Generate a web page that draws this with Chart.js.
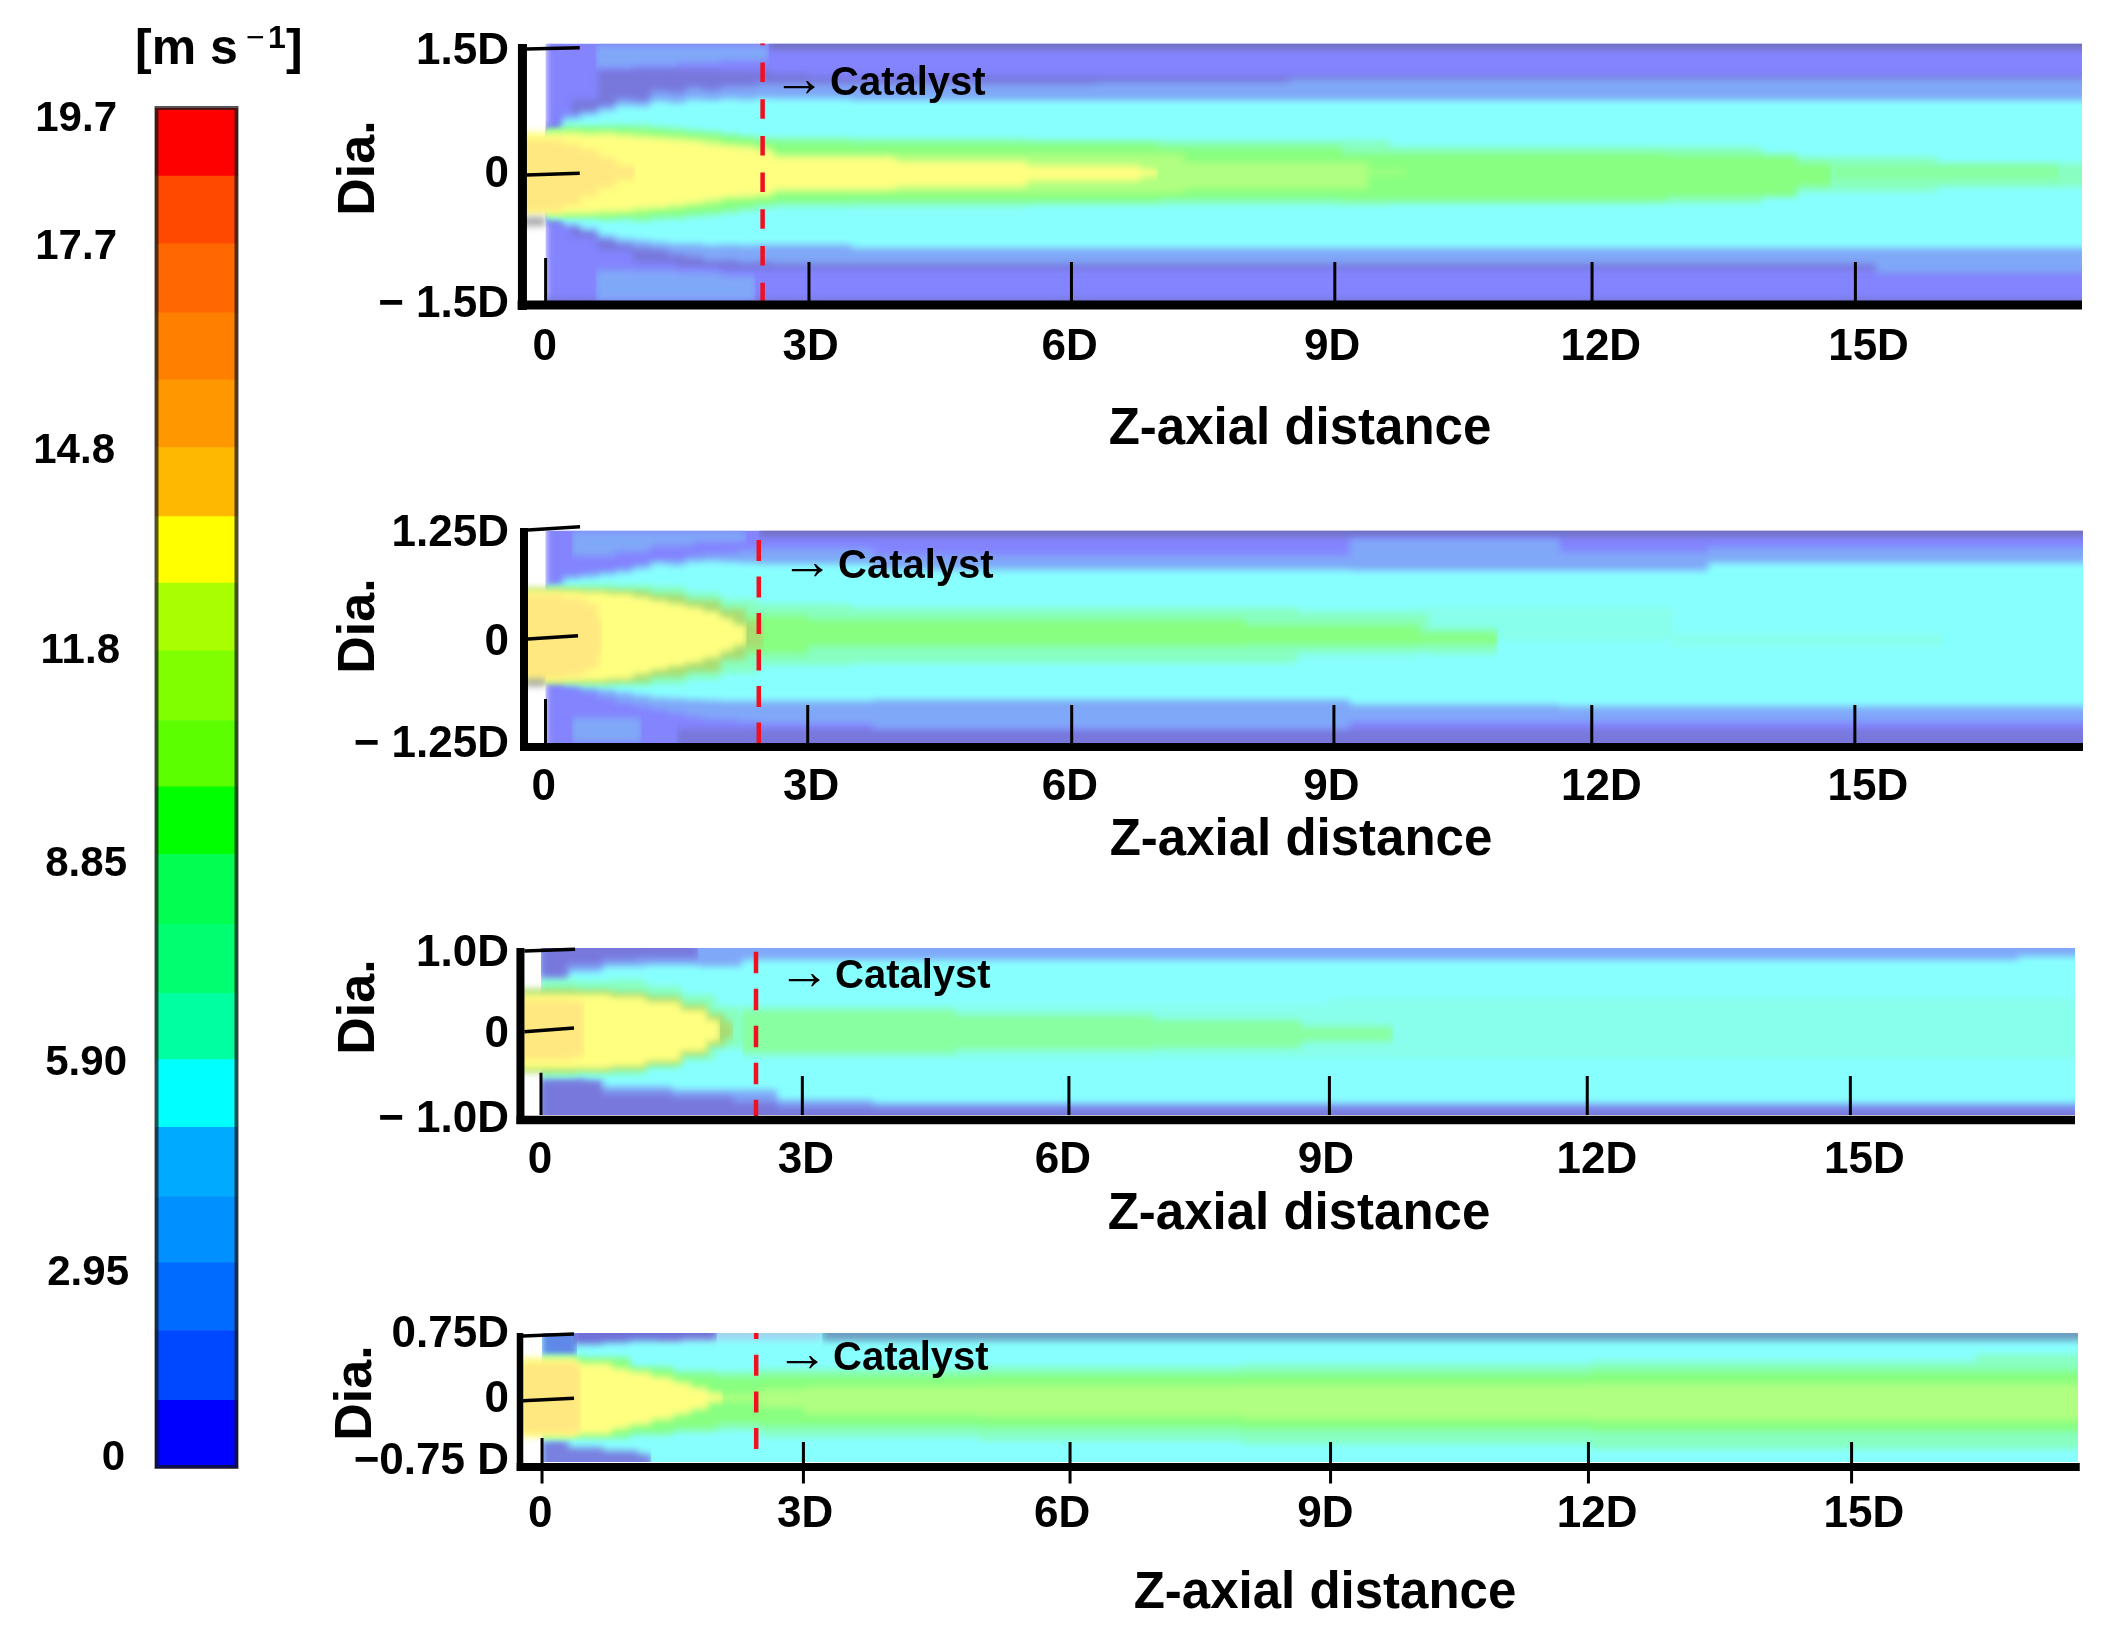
<!DOCTYPE html>
<html>
<head>
<meta charset="utf-8">
<title>Velocity contours</title>
<script src="https://cdn.jsdelivr.net/npm/chart.js@4/dist/chart.umd.min.js"></script>
<style>
    html, body { margin: 0; background: #fff; }
    #page { position: relative; width: 2110px; height: 1640px; overflow: hidden; }
    canvas { position: absolute; left: 0; filter: blur(0.6px); }
</style>
</head>
<body>
<div id="page">
    <canvas id="legend" width="320" height="1500" style="top:0"></canvas>
    <canvas id="p1" width="2110" height="470" style="top:0"></canvas>
    <canvas id="p2" width="2110" height="400" style="top:480px"></canvas>
    <canvas id="p3" width="2110" height="350" style="top:900px"></canvas>
    <canvas id="p4" width="2110" height="350" style="top:1290px"></canvas>
</div>
<script>
// colour bar, bottom to top
const legendSteps = [0.98, 1.01, 0.98, 0.96, 1.0, 0.98, 0.96, 1.0, 1.01, 0.98, 0.96, 1.01, 0.98, 0.96, 1.0, 0.98, 0.97, 1.0, 0.98, 0.98];
const legendColors = ['#0000ff', '#0048ff', '#006cff', '#0090ff', '#00aaff', '#00ffff', '#00ffa0', '#00ff70', '#00ff50', '#00ff00',
    '#5cff00', '#80ff00', '#a8ff00', '#ffff00', '#ffb800', '#ff9800', '#ff8000', '#ff6800', '#ff4800', '#ff0000'];
const legendLabels = ['19.7', '17.7', '14.8', '11.8', '8.85', '5.90', '2.95', '0'];
const legendLabelValues = [19.52, 17.67, 14.72, 11.82, 8.74, 5.86, 2.82, 0.14];

const xTickLabels = ['0', '3D', '6D', '9D', '12D', '15D'];

// contour colours
const PURPLE = '#8484ff', DIM = '#7878dc', DARK = '#7070c0', SKY = '#80a8f8', CYAN = '#88ffff', PALE = '#88ffec',
    MINT = '#88ffc0', GREEN = '#88ff80', SOFT = '#88ffa0', LIME = '#b0ff80', RIM = '#a8dc70', YELLOW = '#ffff80', CORE = '#ffe880', LIP = '#a4a4a4';

// ---- panel 1, +-1.5D
const p1Near = [0, .2, .4, .6, .8, 1, 1.2, 1.4, 1.6, 1.8, 2, 2.2, 2.4, 2.6];
const p1Ticks = [0, 3.01, 6.01, 9.02, 11.96, 14.97];
const p1LabelZ = [-.01, 3.03, 5.99, 8.99, 12.06, 15.12];
const p1LabelD = [1.40, -.023, -1.534];
const p1YLabels = ['1.5D', '0', '\u2212 1.5D'];

const p1BaseZ = [0, 18], p1BaseTop = [1.7, 1.7], p1BaseBot = [-1.7, -1.7];
const p1StripeZ = [2.55, 18], p1StripeTop = [1.7, 1.7], p1StripeBot = [1.43, 1.43];
const p1FloorZ = [0, 18], p1FloorTop = [-1.46, -1.46], p1FloorBot = [-1.7, -1.7];
const p1DimZ = [0, .3, .6, 1, 1.5, 2, 2.6, 3, 8.5, 18];
const p1DimTop = [.55, .85, 1.2, 1.22, 1.2, 1.18, 1.15, 1.12, 1.12, 1.12];
const p1DimBot = [-.6, -.75, -.9, -1.05, -1.1, -1.13, -1.13, -1.13, -1.13, -1.13];
const p1PatchZ = [.57, 1, 1.5, 2, 2.55];
const p1PatchTop = [1.48, 1.48, 1.48, 1.48, 1.48], p1PatchBot = [1.22, 1.24, 1.27, 1.3, 1.38];
const p1FootZ = [.57, 1, 1.5, 2, 2.4];
const p1FootTop = [-1.13, -1.14, -1.16, -1.2, -1.3], p1FootBot = [-1.49, -1.49, -1.49, -1.49, -1.49];
const p1SkyZ = [...p1Near, 3.5, 6.3, 8.5, 15.2, 18];
const p1SkyTop = [.49, .68, .72, .78, .86, .84, .95, .93, .99, .96, 1, 1, 1.03, 1.03, 1.03, 1.05, 1.09, 1.09, 1.09];
const p1SkyBot = [-.52, -.62, -.68, -.78, -.84, -.88, -.9, -.95, -.98, -1.03, -1.02, -1.05, -1.04, -1.06, -1.06, -1.06, -1.06, -1.17, -1.17];
const p1CyanZ = [...p1Near, 3.5, 8.5, 18];
const p1CyanTop = [.45, .62, .67, .72, .78, .77, .83, .81, .85, .84, .86, .85, .87, .86, .84, .84, .84];
const p1CyanBot = [-.55, -.6, -.65, -.73, -.77, -.79, -.81, -.83, -.83, -.85, -.84, -.85, -.84, -.84, -.88, -.88, -.88];
const p1MintZ = [...p1Near, 5.5, 9.65, 13.9, 15.9, 18];
const p1MintTop = [.5, .56, .54, .57, .55, .57, .53, .53, .5, .48, .45, .42, .41, .4, .376, .3, .18, .105, .105];
const p1MintBot = [-.5, -.52, -.53, -.55, -.55, -.57, -.55, -.54, -.52, -.5, -.48, -.45, -.42, -.4, -.38, -.36, -.22, -.17, -.17];
const p1GreenZ = [...p1Near, 3.5, 7, 9.1, 12.8, 14.3, 14.7];
const p1GreenTop = [.47, .5, .52, .5, .52, .5, .5, .47, .45, .44, .42, .4, .37, .36, .34, .3, .22, .2, .105, .05];
const p1GreenBot = [-.47, -.5, -.5, -.53, -.51, -.53, -.5, -.5, -.47, -.46, -.43, -.4, -.36, -.34, -.33, -.3, -.32, -.28, -.15, -.05];
const p1SoftZ = [14.7, 15.9, 17.3], p1SoftTop = [.08, .08, .03], p1SoftBot = [-.08, -.08, -.03];
const p1LimeZ = [0, .4, .8, 1.2, 1.6, 2, 2.4, 2.6, 7.3, 9.4, 9.85];
const p1LimeTop = [.48, .47, .46, .43, .4, .34, .3, .22, .12, .02, 0];
const p1LimeBot = [-.5, -.49, -.47, -.43, -.38, -.31, -.29, -.24, -.19, -.02, 0];
const p1YellowZ = [-.27, 0, .2, .4, .6, .8, 1, 1.2, 1.4, 1.6, 1.8, 2, 2.2, 2.4, 2.6, 4, 5.5, 6.8, 7];
const p1YellowTop = [.47, .45, .46, .44, .45, .43, .41, .4, .38, .37, .33, .31, .29, .26, .18, .13, .08, .04, 0];
const p1YellowBot = [-.48, -.48, -.47, -.47, -.45, -.45, -.42, -.41, -.38, -.36, -.32, -.29, -.28, -.26, -.2, -.17, -.1, -.05, 0];
const p1CoreZ = [-.27, .2, .4, .6, .8, 1.03];
const p1CoreTop = [.38, .33, .27, .18, .08, 0], p1CoreBot = [-.45, -.38, -.28, -.18, -.08, 0];
const p1LipZ = [-.27, 0], p1LipTop = [-.52, -.52], p1LipBot = [-.62, -.62];

// ---- panel 2, +-1.25D
const p2Near = [0, .2, .4, .6, .8, 1, 1.2, 1.4, 1.6, 1.8, 2, 2.2, 2.44];
const p2Ticks = [0, 3, 6.02, 9.02, 11.97, 14.98];
const p2LabelZ = [-.02, 3.04, 6, 8.99, 12.08, 15.13];
const p2LabelD = [1.21, -.073, -1.273];
const p2YLabels = ['1.25D', '0', '\u2212 1.25D'];

const p2BaseZ = [0, 18], p2BaseTop = [1.4, 1.4], p2BaseBot = [-1.4, -1.4];
const p2StripeZ = [2.44, 18], p2StripeTop = [1.4, 1.4], p2StripeBot = [1.18, 1.18];
const p2FloorZ = [1.5, 18], p2FloorTop = [-1.08, -1.08], p2FloorBot = [-1.4, -1.4];
const p2PatchZ = [.3, .8, 1.2, 1.7, 2.3];
const p2PatchTop = [1.24, 1.24, 1.24, 1.24, 1.24], p2PatchBot = [.95, 1, 1.07, 1.12, 1.16];
const p2FootZ = [.3, .6, 1.1], p2FootTop = [-.95, -.95, -1], p2FootBot = [-1.24, -1.24, -1.24];
const p2SkyZ = [...p2Near, 3.75, 9.2, 11.6, 13.3, 18];
const p2SkyTop = [.59, .72, .75, .78, .8, .85, .9, .9, .95, .97, .98, 1.02, 1.04, .96, 1.15, 1, 1.06, 1.06];
const p2SkyBot = [-.51, -.6, -.66, -.72, -.78, -.82, -.86, -.9, -.94, -.97, -.98, -1, -1.02, -1.08, -1, -1, -1, -1];
const p2CyanZ = [...p2Near, 3.75, 9.2, 11.6, 13.3, 18];
const p2CyanTop = [.57, .68, .7, .73, .76, .8, .86, .84, .88, .89, .88, .87, .86, .79, .78, .78, .87, .87];
const p2CyanBot = [-.5, -.55, -.58, -.62, -.66, -.69, -.72, -.73, -.74, -.75, -.76, -.76, -.76, -.74, -.8, -.82, -.82, -.82];
const p2PaleZ = [2.44, 8.6, 10, 12.9, 15.5, 16];
const p2PaleTop = [.35, .32, .35, .04, .04, 0], p2PaleBot = [-.3, -.25, -.05, -.12, -.12, 0];
const p2MintZ = [0, .4, .8, 1.2, 1.6, 2, 2.44, 3.5, 8.6, 10.1, 10.9];
const p2MintTop = [.6, .62, .61, .59, .52, .44, .38, .33, .28, .1, 0];
const p2MintBot = [-.52, -.58, -.58, -.56, -.5, -.43, -.33, -.3, -.18, -.2, 0];
const p2GreenZ = [2.3, 3, 5.2, 8, 10, 10.9];
const p2GreenTop = [.25, .2, .2, .14, .04, 0], p2GreenBot = [-.2, -.11, -.11, -.1, -.08, 0];
const p2RimZ = [-.24, 0, .4, .8, 1.2, 1.6, 2, 2.3, 2.5];
const p2RimTop = [.57, .56, .55, .54, .5, .43, .33, .18, 0], p2RimBot = [-.53, -.54, -.54, -.53, -.47, -.41, -.27, -.14, 0];
const p2YellowZ = [-.24, 0, .4, .7, 1, 1.2, 1.4, 1.6, 1.8, 2, 2.15, 2.3];
const p2YellowTop = [.55, .54, .53, .51, .47, .43, .39, .35, .3, .22, .14, 0];
const p2YellowBot = [-.52, -.52, -.52, -.5, -.44, -.39, -.35, -.31, -.25, -.17, -.1, 0];
const p2CoreZ = [-.24, .2, .45, .6, .65];
const p2CoreTop = [.5, .46, .38, .2, 0], p2CoreBot = [-.5, -.46, -.38, -.2, 0];
const p2LipZ = [-.24, 0], p2LipTop = [-.5, -.5], p2LipBot = [-.58, -.58];

// ---- panel 3, +-1.0D
const p3Ticks = [0, 2.99, 6.04, 9.02, 11.97, 14.98];
const p3LabelZ = [-.01, 3.03, 5.97, 8.98, 12.08, 15.14];
const p3LabelD = [.928, -.042, -1.06];
const p3YLabels = ['1.0D', '0', '\u2212 1.0D'];

const p3BaseZ = [0, 18], p3BaseTop = [1.2, 1.2], p3BaseBot = [-1.2, -1.2];
const p3CapZ = [0, .3, .7, 1.2, 1.8, 2.3, 16.9, 18];
const p3CapTop = [1.2, 1.2, 1.2, 1.2, 1.2, 1.2, 1.2, 1.2], p3CapBot = [.6, .72, .78, .8, .78, .86, .9, .9];
const p3HoodZ = [0, .3, .7, 1.1, 1.8], p3HoodTop = [1.2, 1.2, 1.2, 1.2, 1.2], p3HoodBot = [.66, .8, .86, .88, .86];
const p3SoleZ = [0, .5, 1.5, 2.7, 3.8, 18];
const p3SoleTop = [-.56, -.66, -.7, -.82, -.86, -.86], p3SoleBot = [-1.2, -1.2, -1.2, -1.2, -1.2, -1.2];
const p3FloorZ = [0, .7, 1.5, 2.2, 2.7, 3.8, 18];
const p3FloorTop = [-.58, -.74, -.78, -.84, -.9, -.92, -.94], p3FloorBot = [-1.2, -1.2, -1.2, -1.2, -1.2, -1.2, -1.2];
const p3PaleZ = [2.3, 8, 9, 18], p3PaleTop = [.32, .32, .4, .4], p3PaleBot = [-.33, -.33, -.33, -.33];
const p3MintZ = [0, .4, .8, 1.2, 1.6, 2, 2.3, 2.45];
const p3MintTop = [.62, .6, .62, .54, .44, .3, .2, .1], p3MintBot = [-.54, -.52, -.52, -.44, -.34, -.2, -.14, -.06];
const p3GreenZ = [2.3, 4.75, 7, 8.7, 9.75];
const p3GreenTop = [.26, .2, .14, .06, .02], p3GreenBot = [-.26, -.22, -.2, -.12, -.01];
const p3RimZ = [-.24, .4, .8, 1.2, 1.6, 1.9, 2.1, 2.2];
const p3RimTop = [.51, .49, .47, .42, .32, .21, .12, 0], p3RimBot = [-.49, -.47, -.45, -.39, -.28, -.17, -.09, 0];
const p3YellowZ = [-.24, .4, .8, 1.2, 1.6, 1.9, 2.05];
const p3YellowTop = [.45, .45, .42, .36, .26, .14, 0], p3YellowBot = [-.45, -.45, -.42, -.36, -.24, -.12, 0];
const p3CoreZ = [-.24, .35, .5], p3CoreTop = [.38, .36, 0], p3CoreBot = [-.34, -.3, 0];

// ---- panel 4, +-0.75D
const p4Ticks = [0, 2.99, 6.04, 9.02, 11.97, 14.98];
const p4LabelZ = [-.02, 3.01, 5.95, 8.96, 12.07, 15.12];
const p4LabelD = [.727, -.029, -.75];
const p4YLabels = ['0.75D', '0', '\u22120.75 D'];

const p4BaseZ = [0, 18], p4BaseTop = [.9, .9], p4BaseBot = [-.9, -.9];
const p4StripeZ = [3.2, 18], p4StripeTop = [.9, .9], p4StripeBot = [.66, .66];
const p4HazeZ = [1.3, 3.2], p4HazeTop = [.9, .9], p4HazeBot = [.67, .67];
const p4HoodZ = [0, .4], p4HoodTop = [.9, .9], p4HoodBot = [.48, .6];
const p4CapZ = [.35, .7, 1, 1.3, 1.6, 2], p4CapTop = [.9, .9, .9, .9, .9, .9], p4CapBot = [.62, .64, .66, .66, .68, .68];
const p4SoleZ = [0, .3, .7, 1.1, 1.25], p4SoleTop = [-.5, -.58, -.62, -.66, -.72], p4SoleBot = [-.9, -.9, -.9, -.9, -.9];
const p4MintZ = [0, .5, 1, 1.5, 2, 2.5, 5, 8, 12, 16.4, 18];
const p4MintTop = [.47, .43, .36, .31, .3, .33, .36, .39, .42, .5, .5];
const p4MintBot = [-.46, -.47, -.44, -.4, -.38, -.46, -.5, -.54, -.6, -.6, -.6];
const p4GreenZ = [0, 1, 1.5, 2, 2.5, 5, 8, 12, 18];
const p4GreenTop = [.46, .33, .27, .24, .26, .27, .28, .31, .34];
const p4GreenBot = [-.45, -.4, -.36, -.3, -.33, -.35, -.37, -.39, -.4];
const p4LimeZ = [1.9, 2.5, 3, 5, 8, 12, 18];
const p4LimeTop = [.04, .1, .13, .14, .15, .16, .16];
const p4LimeBot = [-.05, -.12, -.2, -.22, -.25, -.27, -.28];
const p4YellowZ = [-.25, .4, .8, 1, 1.25, 1.5, 1.7, 1.9, 2.07];
const p4YellowTop = [.46, .4, .34, .3, .24, .18, .12, .05, 0], p4YellowBot = [-.46, -.43, -.37, -.32, -.26, -.2, -.14, -.05, 0];
const p4CoreZ = [-.25, .4, .45], p4CoreTop = [.41, .38, 0], p4CoreBot = [-.42, -.4, 0];

const zipPoints = (xs, ys) => xs.map((x, i) => ({ x, y: ys[i] }));

function buildDatasets (bands, marks) {
    const sets = [];

    bands.forEach(([color, zs, top, bot], i) => {
        const common = { borderWidth: 0, pointRadius: 0, stepped: true, order: 1000 - i };
        sets.push({ ...common, data: zipPoints(zs, top), fill: '+1', backgroundColor: color });
        sets.push({ ...common, data: zipPoints(zs, bot), fill: false });
    });

    marks.forEach(mark => {
        sets.push({
            data: zipPoints(mark.x, mark.y),
            borderColor: mark.color || '#000',
            borderWidth: mark.width,
            borderDash: mark.dash || [],
            borderDashOffset: mark.dashOffset || 0,
            borderCapStyle: 'butt',
            pointRadius: 0,
            fill: false,
            clip: false,
            order: 0
        });
    });

    return sets;
}

// fills come out soft, the lines drawn on top stay sharp
const softFill = {
    id: 'softFill',
    beforeDatasetsDraw: chart => { chart.ctx.filter = 'blur(3.5px)'; },
    beforeDatasetDraw: chart => { chart.ctx.filter = 'none'; },
    afterDatasetDraw: chart => { chart.ctx.filter = 'blur(3.5px)'; },
    afterDatasetsDraw: chart => { chart.ctx.filter = 'none'; }
};

const pageText = {
    id: 'pageText',
    afterDraw (chart, args, options) {
        const ctx = chart.ctx;
        options.items.forEach(item => {
            ctx.save();
            ctx.translate(item.x, item.y);
            ctx.rotate(item.rotate || 0);
            ctx.font = item.font;
            ctx.fillStyle = '#000';
            ctx.textAlign = item.align || 'left';
            ctx.textBaseline = 'middle';
            ctx.fillText(item.text, 0, 0);
            ctx.restore();
        });
    }
};

const BOLD = 'Liberation Sans';

function drawPanel (id, cfg) {
    const canvas = document.getElementById(id);
    const area = cfg.area;
    const items = [
        { text: '\u2192', x: cfg.arrowX - 6, y: cfg.catalystY - cfg.canvasTop + 2, font: `52px ${BOLD}` },
        { text: 'Catalyst', x: cfg.arrowX + 51, y: cfg.catalystY - cfg.canvasTop + 4, font: `bold 40px ${BOLD}` },
        { text: 'Z-axial distance', x: cfg.titleX, y: cfg.titleY - cfg.canvasTop + 3, font: `bold 51px ${BOLD}`, align: 'center' },
        { text: 'Dia.', x: cfg.diaX + 3, y: cfg.diaY - cfg.canvasTop, font: `bold 52px ${BOLD}`, align: 'center', rotate: -Math.PI / 2 }
    ];

    new Chart(canvas, {
        type: 'line',
        data: { datasets: buildDatasets(cfg.bands, cfg.marks) },
        options: {
            responsive: false,
            animation: false,
            events: [],
            layout: { padding: { top: area.top - cfg.canvasTop, right: 2110 - area.right, left: 0, bottom: 0 } },
            plugins: { legend: { display: false }, tooltip: { enabled: false }, pageText: { items } },
            scales: {
                x: {
                    type: 'linear',
                    min: cfg.xMin,
                    max: cfg.xMax,
                    grid: { display: false },
                    border: { display: false },
                    afterFit: scale => { scale.height = canvas.height - (area.bottom - cfg.canvasTop); },
                    afterBuildTicks: scale => { scale.ticks = cfg.xLabelAt.map(value => ({ value })); },
                    ticks: {
                        z: 1,
                        autoSkip: false,
                        maxRotation: 0,
                        padding: cfg.xPad,
                        color: '#000',
                        font: { family: BOLD, size: 44, weight: 'bold', lineHeight: 1 },
                        callback: (value, i) => xTickLabels[i]
                    }
                },
                y: {
                    type: 'linear',
                    min: cfg.yMin,
                    max: cfg.yMax,
                    grid: { display: false },
                    border: { display: false },
                    afterFit: scale => { scale.width = area.left; },
                    afterBuildTicks: scale => { scale.ticks = cfg.yLabelAt.map(value => ({ value })); },
                    ticks: {
                        z: 1,
                        autoSkip: false,
                        padding: cfg.yPad,
                        color: '#000',
                        font: { family: BOLD, size: 44, weight: 'bold', lineHeight: 1 },
                        callback: (value, i) => cfg.yLabels[i]
                    }
                }
            }
        },
        plugins: [softFill, pageText]
    });
}

function axisMarks (m) {
    const marks = [];
    marks.push({ x: [m.axisZ, m.axisZ], y: [m.axisTop, m.axisBottom], width: m.axisWidth });
    marks.push({ x: [m.axisStart, m.xMax], y: [m.floorD, m.floorD], width: m.floorWidth });
    marks.push({ x: [m.capStart, m.capEnd], y: [m.capFrom, m.capTo], width: 3.5 });
    marks.push({ x: [m.capStart, m.midEnd], y: [m.midFrom, m.midTo], width: 3.5 });
    m.ticks.forEach((z, i) => {
        const from = i === 0 ? m.zeroTickTop : m.tickTop;
        marks.push({ x: [z, z], y: [from, m.tickBottom], width: 3 });
    });
    marks.push({ x: [m.redZ, m.redZ], y: [m.redTop, m.redBottom], width: 4.5, color: '#f01020', dash: m.dash, dashOffset: m.dashOffset });
    return marks;
}

drawPanel('p1', {
    canvasTop: 0,
    area: { left: 522, right: 2082, top: 43.5, bottom: 301.5 },
    xMin: -.27, xMax: 17.56, yMin: -1.5, yMax: 1.5,
    xLabelAt: p1LabelZ, yLabelAt: p1LabelD, yLabels: p1YLabels, xPad: 16, yPad: 5,
    arrowX: 779, catalystY: 80, titleX: 1300, titleY: 427, diaX: 357, diaY: 168,
    bands: [
        [PURPLE, p1BaseZ, p1BaseTop, p1BaseBot],
        [DARK, p1StripeZ, p1StripeTop, p1StripeBot],
        [DIM, p1FloorZ, p1FloorTop, p1FloorBot],
        [DIM, p1DimZ, p1DimTop, p1DimBot],
        [SKY, p1PatchZ, p1PatchTop, p1PatchBot],
        [SKY, p1FootZ, p1FootTop, p1FootBot],
        [SKY, p1SkyZ, p1SkyTop, p1SkyBot],
        [CYAN, p1CyanZ, p1CyanTop, p1CyanBot],
        [MINT, p1MintZ, p1MintTop, p1MintBot],
        [GREEN, p1GreenZ, p1GreenTop, p1GreenBot],
        [SOFT, p1SoftZ, p1SoftTop, p1SoftBot],
        [LIME, p1LimeZ, p1LimeTop, p1LimeBot],
        [YELLOW, p1YellowZ, p1YellowTop, p1YellowBot],
        [CORE, p1CoreZ, p1CoreTop, p1CoreBot],
        [LIP, p1LipZ, p1LipTop, p1LipBot]
    ],
    marks: axisMarks({
        axisZ: -.265, axisTop: 1.494, axisBottom: -1.6, axisWidth: 9,
        axisStart: -.32, xMax: 17.56, floorD: -1.54, floorWidth: 9,
        capStart: -.22, capEnd: .39, capFrom: 1.436, capTo: 1.451, midEnd: .39, midFrom: -.03, midTo: -.01,
        ticks: p1Ticks, zeroTickTop: -.994, tickTop: -1.04, tickBottom: -1.5,
        redZ: 2.48, redTop: 1.5, redBottom: -1.52, dash: [19.5, 17.2], dashOffset: 17.7
    })
});

drawPanel('p2', {
    canvasTop: 480,
    area: { left: 524, right: 2083, top: 530.5, bottom: 743 },
    xMin: -.246, xMax: 17.59, yMin: -1.25, yMax: 1.25,
    xLabelAt: p2LabelZ, yLabelAt: p2LabelD, yLabels: p2YLabels, xPad: 15, yPad: 7,
    arrowX: 787, catalystY: 563, titleX: 1301, titleY: 838, diaX: 357, diaY: 626,
    bands: [
        [PURPLE, p2BaseZ, p2BaseTop, p2BaseBot],
        [DARK, p2StripeZ, p2StripeTop, p2StripeBot],
        [DIM, p2FloorZ, p2FloorTop, p2FloorBot],
        [SKY, p2PatchZ, p2PatchTop, p2PatchBot],
        [SKY, p2FootZ, p2FootTop, p2FootBot],
        [SKY, p2SkyZ, p2SkyTop, p2SkyBot],
        [CYAN, p2CyanZ, p2CyanTop, p2CyanBot],
        [PALE, p2PaleZ, p2PaleTop, p2PaleBot],
        [MINT, p2MintZ, p2MintTop, p2MintBot],
        [GREEN, p2GreenZ, p2GreenTop, p2GreenBot],
        [RIM, p2RimZ, p2RimTop, p2RimBot],
        [YELLOW, p2YellowZ, p2YellowTop, p2YellowBot],
        [CORE, p2CoreZ, p2CoreTop, p2CoreBot],
        [LIP, p2LipZ, p2LipTop, p2LipBot]
    ],
    marks: axisMarks({
        axisZ: -.246, axisTop: 1.28, axisBottom: -1.34, axisWidth: 8,
        axisStart: -.29, xMax: 17.59, floorD: -1.297, floorWidth: 8,
        capStart: -.2, capEnd: .395, capFrom: 1.256, capTo: 1.295, midEnd: .372, midFrom: -.026, midTo: .013,
        ticks: p2Ticks, zeroTickTop: -.732, tickTop: -.802, tickBottom: -1.25,
        redZ: 2.44, redTop: 1.139, redBottom: -1.27, dash: [21, 15.5], dashOffset: 0
    })
});

drawPanel('p3', {
    canvasTop: 900,
    area: { left: 520, right: 2075, top: 948, bottom: 1115 },
    xMin: -.24, xMax: 17.55, yMin: -1, yMax: 1,
    xLabelAt: p3LabelZ, yLabelAt: p3LabelD, yLabels: p3YLabels, xPad: 16, yPad: 3,
    arrowX: 784, catalystY: 973, titleX: 1299, titleY: 1212, diaX: 357, diaY: 1007,
    bands: [
        [CYAN, p3BaseZ, p3BaseTop, p3BaseBot],
        [SKY, p3CapZ, p3CapTop, p3CapBot],
        [DIM, p3HoodZ, p3HoodTop, p3HoodBot],
        [SKY, p3SoleZ, p3SoleTop, p3SoleBot],
        [DIM, p3FloorZ, p3FloorTop, p3FloorBot],
        [PALE, p3PaleZ, p3PaleTop, p3PaleBot],
        [MINT, p3MintZ, p3MintTop, p3MintBot],
        [SOFT, p3GreenZ, p3GreenTop, p3GreenBot],
        [RIM, p3RimZ, p3RimTop, p3RimBot],
        [YELLOW, p3YellowZ, p3YellowTop, p3YellowBot],
        [CORE, p3CoreZ, p3CoreTop, p3CoreBot]
    ],
    marks: axisMarks({
        axisZ: -.235, axisTop: 1, axisBottom: -1.108, axisWidth: 8,
        axisStart: -.28, xMax: 17.55, floorD: -1.06, floorWidth: 8.5,
        capStart: -.19, capEnd: .39, capFrom: .964, capTo: .984, midEnd: .378, midFrom: -.002, midTo: .042,
        ticks: p3Ticks, zeroTickTop: -.493, tickTop: -.533, tickBottom: -1,
        redZ: 2.46, redTop: .956, redBottom: -1.08, dash: [21.7, 15.3], dashOffset: 0
    })
});

drawPanel('p4', {
    canvasTop: 1290,
    area: { left: 520, right: 2078, top: 1333, bottom: 1462 },
    xMin: -.252, xMax: 17.57, yMin: -.75, yMax: .75,
    xLabelAt: p4LabelZ, yLabelAt: p4LabelD, yLabels: p4YLabels, xPad: 23, yPad: 3,
    arrowX: 782, catalystY: 1355, titleX: 1325, titleY: 1591, diaX: 354, diaY: 1393,
    bands: [
        [CYAN, p4BaseZ, p4BaseTop, p4BaseBot],
        ['#6c9cc0', p4StripeZ, p4StripeTop, p4StripeBot],
        ['#a0d4f0', p4HazeZ, p4HazeTop, p4HazeBot],
        ['#6088e8', p4HoodZ, p4HoodTop, p4HoodBot],
        ['#7070d8', p4CapZ, p4CapTop, p4CapBot],
        ['#7880e0', p4SoleZ, p4SoleTop, p4SoleBot],
        [MINT, p4MintZ, p4MintTop, p4MintBot],
        [GREEN, p4GreenZ, p4GreenTop, p4GreenBot],
        [LIME, p4LimeZ, p4LimeTop, p4LimeBot],
        [YELLOW, p4YellowZ, p4YellowTop, p4YellowBot],
        [CORE, p4CoreZ, p4CoreTop, p4CoreBot]
    ],
    marks: axisMarks({
        axisZ: -.252, axisTop: .75, axisBottom: -.855, axisWidth: 6.5,
        axisStart: -.29, xMax: 17.59, floorD: -.808, floorWidth: 8,
        capStart: -.22, capEnd: .366, capFrom: .715, capTo: .738, midEnd: .366, midFrom: -.037, midTo: -.009,
        ticks: p4Ticks, zeroTickTop: -.471, tickTop: -.517, tickBottom: -1,
        redZ: 2.45, redTop: .75, redBottom: -.785, dash: [21, 15.7], dashOffset: 15
    })
});

// colour bar
const legendRightEdges = [117, 117, 115, 120, 127, 127, 129, 125];
const legendEdge = {
    id: 'legendEdge',
    afterDatasetsDraw (chart) {
        const { ctx, chartArea: a, scales: { y } } = chart;
        ctx.save();
        ctx.strokeStyle = 'rgba(20,20,20,0.72)';
        ctx.lineWidth = 4;
        ctx.strokeRect(a.left + 1.5, a.top + 1, a.right - a.left - 3, a.bottom - a.top - 2);
        ctx.fillStyle = '#000';
        ctx.textAlign = 'right';
        ctx.textBaseline = 'middle';
        ctx.font = `bold 42px ${BOLD}`;
        legendLabels.forEach((text, i) => ctx.fillText(text, legendRightEdges[i], y.getPixelForValue(legendLabelValues[i])));
        ctx.textAlign = 'left';
        ctx.textBaseline = 'alphabetic';
        ctx.font = `bold 50px ${BOLD}`;
        ctx.fillText('[m s', 135, 64);
        ctx.fillText(']', 286, 64);
        ctx.font = `32px ${BOLD}`;
        ctx.fillText('\u2212', 246, 48);
        ctx.font = `bold 32px ${BOLD}`;
        ctx.fillText('1', 268, 48);
        ctx.restore();
    }
};

new Chart(document.getElementById('legend'), {
    type: 'bar',
    data: {
        labels: ['v'],
        datasets: legendSteps.map((step, i) => ({
            data: [step],
            backgroundColor: legendColors[i],
            barPercentage: 1,
            categoryPercentage: 1
        }))
    },
    options: {
        responsive: false,
        animation: false,
        events: [],
        layout: { padding: { left: 155, right: 82, top: 107, bottom: 32 } },
        plugins: { legend: { display: false }, tooltip: { enabled: false } },
        scales: {
            x: { stacked: true, display: false },
            y: { stacked: true, display: false, min: 0, max: 19.7 }
        }
    },
    plugins: [legendEdge]
});
</script>
</body>
</html>
